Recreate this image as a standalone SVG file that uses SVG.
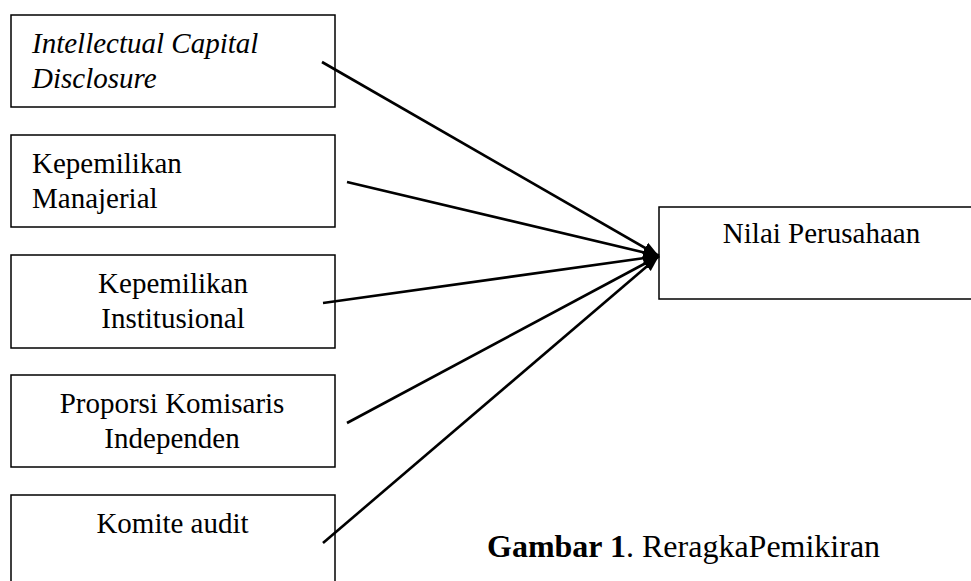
<svg xmlns="http://www.w3.org/2000/svg" width="971" height="581" viewBox="0 0 971 581">
<style>
.box{fill:#fff;stroke:#000;stroke-width:1.5}
.t{font-family:"Liberation Serif","Times New Roman",serif;font-size:29px;fill:#000}
.c{text-anchor:middle}
.i{font-style:italic}
.ln{stroke:#000;stroke-width:2.6;fill:none;marker-end:url(#ah)}
</style>
<defs>
<marker id="ah" markerUnits="userSpaceOnUse" markerWidth="18" markerHeight="14" refX="16" refY="7" orient="auto">
<path d="M0,1 L16,7 L0,13 Z" fill="#000"/>
</marker>
</defs>
<rect width="971" height="581" fill="#fff"/>
<g id="n1">
<rect class="box" x="11" y="15" width="324" height="92"/>
<text class="t i" x="32" y="53">Intellectual Capital</text>
<text class="t i" x="32" y="88">Disclosure</text>
</g>
<g id="n2">
<rect class="box" x="11" y="135" width="324" height="92"/>
<text class="t" x="32" y="173">Kepemilikan</text>
<text class="t" x="32" y="208">Manajerial</text>
</g>
<g id="n3">
<rect class="box" x="11" y="255" width="324" height="93"/>
<text class="t c" x="173" y="293">Kepemilikan</text>
<text class="t c" x="173" y="328">Institusional</text>
</g>
<g id="n4">
<rect class="box" x="11" y="375" width="324" height="92"/>
<text class="t c" x="172" y="413">Proporsi Komisaris</text>
<text class="t c" x="172" y="448">Independen</text>
</g>
<g id="n5">
<rect class="box" x="11" y="495" width="324" height="100"/>
<text class="t c" x="172.5" y="533">Komite audit</text>
</g>
<g id="target">
<rect class="box" x="659" y="207" width="330" height="92"/>
<text class="t c" x="821.5" y="243">Nilai Perusahaan</text>
</g>
<g id="connectors">
<line class="ln" x1="322" y1="62" x2="659" y2="256"/>
<line class="ln" x1="347" y1="182" x2="659" y2="256"/>
<line class="ln" x1="323" y1="303" x2="659" y2="256"/>
<line class="ln" x1="347" y1="423" x2="659" y2="256"/>
<line class="ln" x1="323" y1="543" x2="659" y2="256"/>
</g>
<g id="caption">
<text class="t" x="487" y="557" style="font-size:32px"><tspan font-weight="bold">Gambar 1</tspan>. ReragkaPemikiran</text>
</g>
</svg>
